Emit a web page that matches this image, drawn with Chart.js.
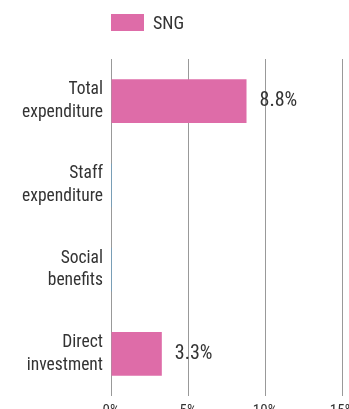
<!DOCTYPE html>
<html>
<head>
<meta charset="utf-8">
<script src="https://cdn.jsdelivr.net/npm/chart.js@4.4.1/dist/chart.umd.min.js"></script>
<style>
  html, body { margin: 0; padding: 0; background: #fff; overflow: hidden; }
  #wrap { position: relative; width: 349px; height: 409px; overflow: hidden; }
  #chart { position: absolute; left: 0; top: 0; }
  #legend {
    position: absolute; left: 111px; top: 14px;
    display: flex; align-items: center;
    font: 18px "Roboto Condensed", "DejaVu Sans Condensed", sans-serif;
    color: #333; line-height: 17px;
  }
  #legend .swatch { width: 33px; height: 17px; margin-right: 9px; }
</style>
</head>
<body>
<div id="wrap">
  <canvas id="chart" width="349" height="422"></canvas>
  <div id="legend"></div>
</div>
<script>
const categories = [
  ["Total", "expenditure"],
  ["Staff", "expenditure"],
  ["Social", "benefits"],
  ["Direct", "investment"],
];
const seriesName = "SNG";
const sngValues = [8.8, 0, 0, 3.3];
const xTicks = [0, 5, 10, 15];

const PINK = "#DE6CA8";
const ZERO_BLUE = "#5BA4D4";
const TEXT = "#333333";
const FONT = '"Roboto Condensed", "DejaVu Sans Condensed", sans-serif';

Chart.defaults.font.family = FONT;
Chart.defaults.color = TEXT;

// value labels to the right of each bar
const valueLabels = {
  id: "valueLabels",
  afterDatasetsDraw(chart) {
    const { ctx } = chart;
    const meta = chart.getDatasetMeta(0);
    ctx.save();
    ctx.font = `20px ${FONT}`;
    ctx.fillStyle = TEXT;
    ctx.textAlign = "left";
    ctx.textBaseline = "middle";
    meta.data.forEach((bar, i) => {
      const v = sngValues[i];
      if (!v) return;
      ctx.fillText(v.toFixed(1) + "%", bar.x + 13, bar.y);
    });
    ctx.restore();
  },
};

const ctx = document.getElementById("chart").getContext("2d");
const chart = new Chart(ctx, {
  type: "bar",
  data: {
    labels: categories,
    datasets: [
      {
        label: seriesName,
        data: sngValues,
        backgroundColor: (c) => (c.raw === 0 ? ZERO_BLUE : PINK),
        minBarLength: 1,
        categoryPercentage: 0.52,
        barPercentage: 1,
      },
    ],
  },
  options: {
    indexAxis: "y",
    responsive: false,
    animation: false,
    events: [],
    layout: { padding: { top: 59, right: 7, left: 0, bottom: 0 } },
    plugins: {
      legend: { display: false },
      tooltip: { enabled: false },
    },
    scales: {
      x: {
        position: "bottom",
        min: 0,
        max: 15,
        afterBuildTicks: (scale) => {
          scale.ticks = xTicks.map((v) => ({ value: v }));
        },
        afterFit: (scale) => {
          scale.paddingLeft = 0;
          scale.paddingRight = 0;
          scale.height = 26;
        },
        grid: { color: "#999999", lineWidth: 1, drawTicks: false },
        border: { display: false },
        ticks: {
          padding: 6,
          font: { size: 15 },
          color: TEXT,
          maxRotation: 0,
          callback: (v) => v + "%",
        },
      },
      y: {
        afterFit: (scale) => {
          scale.width = 111;
          scale.paddingTop = 0;
          scale.paddingBottom = 0;
        },
        grid: { display: false, drawTicks: false },
        border: { display: false },
        ticks: {
          padding: 8,
          font: { size: 17.5, lineHeight: 1.31 },
          color: TEXT,
        },
      },
    },
  },
  plugins: [valueLabels],
});

// legend above the plot, aligned with the axis
const legend = document.getElementById("legend");
chart.data.datasets.forEach((ds) => {
  const sw = document.createElement("span");
  sw.className = "swatch";
  sw.style.background = PINK;
  const txt = document.createElement("span");
  txt.textContent = ds.label;
  legend.appendChild(sw);
  legend.appendChild(txt);
});
</script>
</body>
</html>
